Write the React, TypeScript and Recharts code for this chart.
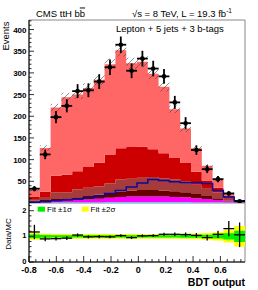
import React from 'react';
import {
  ComposedChart,
  Area,
  Line,
  Scatter,
  ErrorBar,
  XAxis,
  YAxis,
  ReferenceArea,
} from 'recharts';

// bin edges of the BDT output histogram (20 bins)
const binEdges = [
  -0.8, -0.721, -0.642, -0.563, -0.484, -0.405, -0.326, -0.247, -0.168, -0.089,
  -0.01, 0.069, 0.148, 0.227, 0.306, 0.385, 0.464, 0.543, 0.622, 0.701, 0.78,
];

// stacked backgrounds, bottom to top
const ewk = [1, 1, 1.5, 1.5, 2, 2, 2, 2.5, 2.5, 2.5, 2.5, 2.5, 2.5, 2.5, 2.5, 2, 2, 1.5, 1, 0.5];
const singleTop = [2, 3, 3.5, 4.5, 5, 6, 8, 9.5, 11.5, 12.5, 12.5, 12.5, 12.5, 11.5, 10.5, 9, 7, 5.5, 3, 1];
const ttbb = [2, 3, 4, 5, 6, 8, 9, 11, 12, 14, 15, 15, 14, 13, 12, 10, 7, 4, 2, 0.5];
const ttb = [4, 7, 16, 14, 18, 19, 19, 22, 28, 27, 28, 30, 28, 28, 25, 21, 17, 13, 6, 1];
const ttcc = [5, 12, 38, 40, 42, 48, 55, 67, 72, 73, 72, 64, 58, 49, 42, 30, 19, 11, 5, 2];
const ttlf = [16, 101, 157, 179, 177, 182, 191, 208, 226, 193, 196, 174, 153, 112, 80, 54, 34, 19, 5, 1];
const mcErr = [3, 6, 9, 10, 10, 11, 12, 13, 14, 13, 13, 12, 11, 9, 8, 6, 4, 3, 2, 1];

// ttH signal (scaled), drawn as outline
const signal = [2, 3, 5, 7, 9, 12, 16, 22, 29, 37, 46, 54, 52, 49, 47, 47, 45, 29, 14, 5];

// data
const dataCounts = [33, 112, 198, 224, 258, 260, 280, 313, 365, 305, 333, 310, 292, 232, 184, 122, 78, 55, 22, 4];
const dataErr = [6, 11, 14, 15, 16, 16, 17, 18, 19, 17, 18, 18, 17, 15, 14, 11, 9, 7, 5, 2];

// ratio panel
const ratio = [1.17, 0.9, 0.91, 0.93, 1.05, 0.98, 0.99, 0.98, 1.03, 0.95, 1.02, 1.03, 1.08, 1.08, 1.07, 1.04, 0.95, 1.08, 1.3, 1.06];
const ratioErr = [0.28, 0.09, 0.07, 0.07, 0.065, 0.06, 0.06, 0.055, 0.055, 0.055, 0.055, 0.055, 0.06, 0.07, 0.08, 0.09, 0.11, 0.14, 0.3, 0.48];
const fit1s = [0.07, 0.05, 0.045, 0.045, 0.045, 0.045, 0.045, 0.045, 0.045, 0.045, 0.045, 0.045, 0.045, 0.045, 0.05, 0.055, 0.065, 0.08, 0.12, 0.22];
const fit2s = [0.13, 0.1, 0.09, 0.09, 0.09, 0.09, 0.09, 0.09, 0.09, 0.09, 0.09, 0.09, 0.09, 0.09, 0.1, 0.11, 0.13, 0.16, 0.24, 0.4];

const xTicks = Array.from({ length: 32 }, (_, i) => (-80 + 5 * i) / 100);
const yTicksTop = Array.from({ length: 43 }, (_, i) => i * 10);
const yTicksRatio = Array.from({ length: 12 }, (_, i) => i / 5);

const FONT = '"Liberation Sans", Arial, Helvetica, sans-serif';
const nb = ttlf.length;

// step rows at bin edges (last edge repeats last bin)
const stackRows = binEdges.map((x, i) => {
  const j = Math.min(i, nb - 1);
  const total = ewk[j] + singleTop[j] + ttbb[j] + ttb[j] + ttcc[j] + ttlf[j];
  return {
    x,
    ewk: ewk[j],
    singleTop: singleTop[j],
    ttbb: ttbb[j],
    ttb: ttb[j],
    ttcc: ttcc[j],
    ttlf: ttlf[j],
    signal: signal[j],
    band: [total - mcErr[j], total + mcErr[j]],
  };
});

const ratioRows = binEdges.map((x, i) => {
  const j = Math.min(i, nb - 1);
  return {
    x,
    s1: [1 - fit1s[j], 1 + fit1s[j]],
    s2: [1 - fit2s[j], 1 + fit2s[j]],
  };
});

const halfWidth = (binEdges[1] - binEdges[0]) / 2;
const dataPoints = dataCounts.map((y, i) => ({
  x: (binEdges[i] + binEdges[i + 1]) / 2,
  y,
  ex: halfWidth,
  ey: dataErr[i],
}));
const ratioPoints = ratio.map((y, i) => ({
  x: (binEdges[i] + binEdges[i + 1]) / 2,
  y,
  ex: halfWidth,
  ey: ratioErr[i],
}));

const Y_MARGIN = 3;

function makeYTick(
  isMajor: (v: number) => boolean,
  showLabel: (v: number) => boolean,
  fmt: (v: number) => string,
  fontSize: number,
  dy: number,
) {
  return (p: any) => {
    const v = p.payload.value;
    const ax = p.x + Y_MARGIN;
    const major = isMajor(v);
    return (
      <g>
        <line x1={ax} x2={ax + (major ? 5 : 2.5)} y1={p.y} y2={p.y} stroke="#000" strokeWidth={0.8} />
        {major && showLabel(v) && (
          <text x={ax - 2.5} y={p.y} dy={dy} textAnchor="end" fontSize={fontSize} fontWeight="bold" fontFamily={FONT} fill="#000">
            {fmt(v)}
          </text>
        )}
      </g>
    );
  };
}

const isMajorX = (v: number) => Math.abs(v * 5 - Math.round(v * 5)) < 1e-6;

function makeXTick(showLabel: boolean, majorLen: number) {
  return (p: any) => {
    const v = p.payload.value;
    const major = isMajorX(v);
    return (
      <g>
        <line x1={p.x} x2={p.x} y1={p.y} y2={p.y - (major ? majorLen : majorLen / 2)} stroke="#000" strokeWidth={0.8} />
        {showLabel && major && (
          <text x={p.x} y={p.y + 10.5} textAnchor="middle" fontSize={9} fontWeight="bold" fontFamily={FONT} fill="#000">
            {String(Math.round(v * 10) / 10)}
          </text>
        )}
      </g>
    );
  };
}

const dot = (p: any) => <circle cx={p.cx} cy={p.cy} r={2.3} fill="#000" />;

const X_DOMAIN: [number, number] = [-0.8, 0.78];

export default function App() {
  return (
    <div style={{ position: 'absolute', left: 0, top: 0, width: 258, height: 290, background: '#fff', fontFamily: FONT }}>
      <div style={{ position: 'absolute', left: 0, top: 0 }}>
        <ComposedChart width={258} height={203} data={stackRows} margin={{ top: 20, right: 13, bottom: 0, left: 0 }}>
          <defs>
            <pattern id="hatch" patternUnits="userSpaceOnUse" width={6} height={6}>
              <path d="M-1,1 L1,-1 M0,6 L6,0 M5,7 L7,5" stroke="#444" strokeWidth={0.6} />
            </pattern>
          </defs>
          <XAxis
            dataKey="x"
            type="number"
            domain={X_DOMAIN}
            allowDataOverflow
            ticks={xTicks}
            interval={0}
            height={0}
            tickSize={0}
            tickMargin={0}
            tickLine={false}
            axisLine={{ stroke: '#000', strokeWidth: 1 }}
            tick={makeXTick(false, 5)}
          />
          <YAxis
            type="number"
            domain={[0, 422]}
            allowDataOverflow
            ticks={yTicksTop}
            interval={0}
            width={29}
            tickSize={0}
            tickMargin={Y_MARGIN}
            tickLine={false}
            axisLine={{ stroke: '#000', strokeWidth: 1 }}
            tick={makeYTick((v) => v % 50 === 0, (v) => v > 0, (v) => String(v), 8, 3)}
          />
          <ReferenceArea x1={X_DOMAIN[0]} x2={X_DOMAIN[1]} y1={0} y2={422} fill="none" stroke="#888" strokeWidth={1} />
          <Area type="stepAfter" dataKey="ewk" stackId="mc" stroke="none" fill="#66ccff" fillOpacity={1} isAnimationActive={false} />
          <Area type="stepAfter" dataKey="singleTop" stackId="mc" stroke="none" fill="#ff00ff" fillOpacity={1} isAnimationActive={false} />
          <Area type="stepAfter" dataKey="ttbb" stackId="mc" stroke="none" fill="#660000" fillOpacity={1} isAnimationActive={false} />
          <Area type="stepAfter" dataKey="ttb" stackId="mc" stroke="none" fill="#a53b3b" fillOpacity={1} isAnimationActive={false} />
          <Area type="stepAfter" dataKey="ttcc" stackId="mc" stroke="none" fill="#cc0000" fillOpacity={1} isAnimationActive={false} />
          <Area type="stepAfter" dataKey="ttlf" stackId="mc" stroke="none" fill="#ff6666" fillOpacity={1} isAnimationActive={false} />
          <Area type="stepAfter" dataKey="band" stroke="none" fill="url(#hatch)" fillOpacity={1} isAnimationActive={false} />
          <Line type="stepAfter" dataKey="signal" stroke="#0a0a9c" strokeWidth={1.5} dot={false} isAnimationActive={false} />
          <Scatter data={dataPoints} dataKey="y" shape={dot} isAnimationActive={false}>
            <ErrorBar dataKey="ex" direction="x" width={0} stroke="#000" strokeWidth={1.8} isAnimationActive={false} />
            <ErrorBar dataKey="ey" direction="y" width={0} stroke="#000" strokeWidth={1.8} isAnimationActive={false} />
          </Scatter>
        </ComposedChart>
      </div>
      <div style={{ position: 'absolute', left: 0, top: 203 }}>
        <ComposedChart width={258} height={87} data={ratioRows} margin={{ top: 0, right: 13, bottom: 0, left: 0 }}>
          <XAxis
            dataKey="x"
            type="number"
            domain={X_DOMAIN}
            allowDataOverflow
            ticks={xTicks}
            interval={0}
            height={28}
            tickSize={0}
            tickMargin={0}
            tickLine={false}
            axisLine={{ stroke: '#000', strokeWidth: 1 }}
            tick={makeXTick(true, 6)}
          />
          <YAxis
            type="number"
            domain={[0, 2.3]}
            allowDataOverflow
            ticks={yTicksRatio}
            interval={0}
            width={29}
            tickSize={0}
            tickMargin={Y_MARGIN}
            tickLine={false}
            axisLine={{ stroke: '#000', strokeWidth: 1 }}
            tick={makeYTick((v) => Math.abs(v - Math.round(v)) < 1e-6, () => true, (v) => String(Math.round(v)), 7.5, 2)}
          />
          <ReferenceArea x1={X_DOMAIN[0]} x2={X_DOMAIN[1]} y1={0} y2={2.3} fill="none" stroke="#888" strokeWidth={1} />
          <Area type="stepAfter" dataKey="s2" stroke="none" fill="#ffff00" fillOpacity={1} isAnimationActive={false} />
          <Area type="stepAfter" dataKey="s1" stroke="none" fill="#00ee00" fillOpacity={1} isAnimationActive={false} />
          <Scatter data={ratioPoints} dataKey="y" shape={() => <g />} isAnimationActive={false}>
            <ErrorBar dataKey="ex" direction="x" width={0} stroke="#000" strokeWidth={1.3} isAnimationActive={false} />
            <ErrorBar dataKey="ey" direction="y" width={0} stroke="#000" strokeWidth={1.3} isAnimationActive={false} />
          </Scatter>
        </ComposedChart>
      </div>
      <svg width={258} height={290} style={{ position: 'absolute', left: 0, top: 0, pointerEvents: 'none' }} fontFamily={FONT}>
        <text x={36} y={16.5} fontSize={9.5} fill="#000">
          CMS ttH b<tspan style={{ textDecoration: 'overline' }}>b</tspan>
        </text>
        <text x={132} y={16.5} fontSize={9.5} fill="#000">
          √s = 8 TeV, L = 19.3 fb<tspan dy={-3.5} fontSize={6.5}>-1</tspan>
        </text>
        <text x={116} y={32} fontSize={9.5} fill="#000">
          Lepton + 5 jets + 3 b-tags
        </text>
        <text transform="translate(9,21.5) rotate(-90)" textAnchor="end" fontSize={9.5} fill="#000">
          Events
        </text>
        <text transform="translate(10.5,234) rotate(-90)" textAnchor="middle" fontSize={8} fill="#000">
          Data/MC
        </text>
        <text x={245} y={285.5} textAnchor="end" fontSize={10.5} fontWeight="bold" fill="#000">
          BDT output
        </text>
        <rect x={37.7} y={206.7} width={7.3} height={5} fill="#00ee00" />
        <text x={47} y={212} fontSize={8} fill="#000">
          Fit ±1σ
        </text>
        <rect x={81.7} y={206.7} width={7} height={5} fill="#ffff00" />
        <text x={90.5} y={212} fontSize={8} fill="#000">
          Fit ±2σ
        </text>
      </svg>
    </div>
  );
}
